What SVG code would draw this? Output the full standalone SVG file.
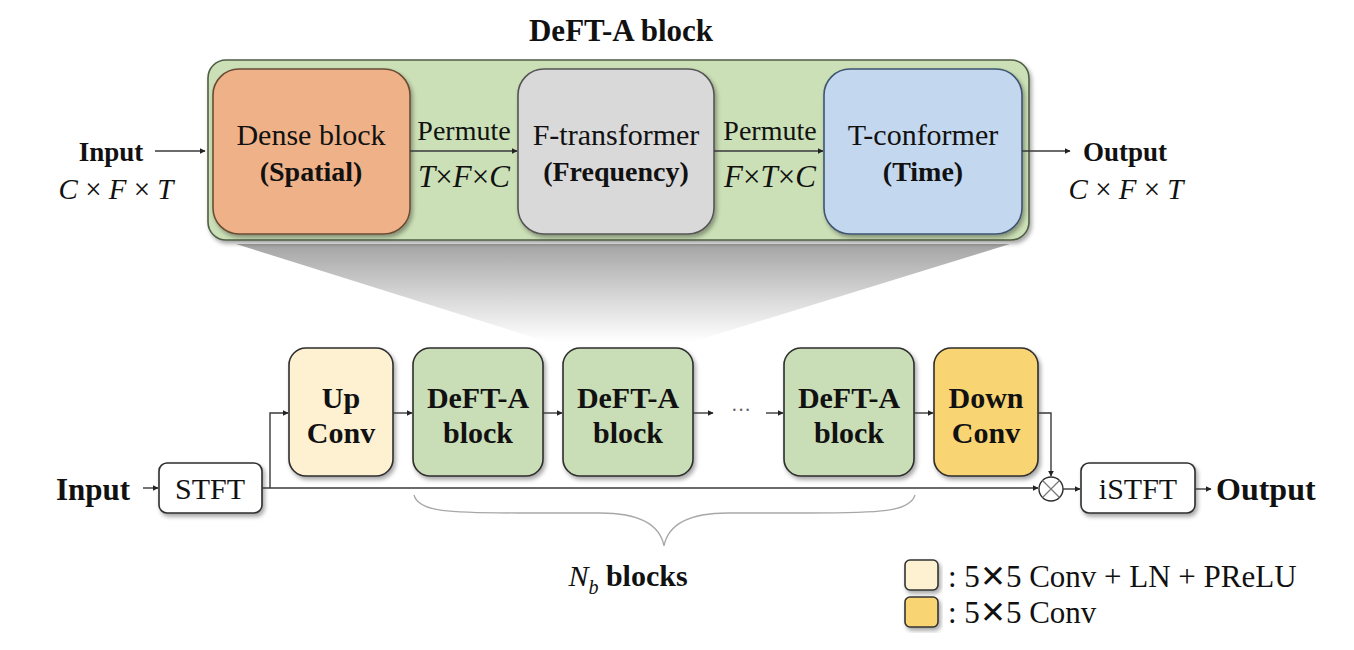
<svg xmlns="http://www.w3.org/2000/svg" width="1354" height="650" viewBox="0 0 1354 650">
<defs>
<style>
.t{font-family:"Liberation Serif","Times New Roman",serif;fill:#111;}
.b{font-weight:bold;}
.i{font-style:italic;}
.ln{fill:none;stroke:#3a3a3a;stroke-width:1.4;}
.box{stroke:#2e2e2e;stroke-width:1.6;}
.x{font-family:"DejaVu Sans",sans-serif;font-size:31px;font-weight:200;}
</style>
<marker id="ah" viewBox="0 0 10 10" refX="9" refY="5" markerWidth="6" markerHeight="6" markerUnits="userSpaceOnUse" orient="auto">
<path d="M0,0 L10,5 L0,10 z" fill="#222"/>
</marker>
<filter id="sh" x="-10%" y="-10%" width="125%" height="130%">
<feDropShadow dx="2" dy="3" stdDeviation="2" flood-color="#000" flood-opacity="0.35"/>
</filter>
<linearGradient id="fan" x1="0" y1="0" x2="0" y2="1">
<stop offset="0" stop-color="#a4a4a4"/>
<stop offset="0.55" stop-color="#d8d8d8"/>
<stop offset="1" stop-color="#ffffff"/>
</linearGradient>
</defs>
<rect width="1354" height="650" fill="#ffffff"/>

<!-- zoom fan -->
<polygon id="fan-shape" points="236,244 1010,244 692,342 548,342" fill="url(#fan)"/>

<!-- title -->
<text class="t b" x="621" y="41" font-size="31" text-anchor="middle">DeFT-A block</text>

<!-- DeFT-A detailed block -->
<g id="deft-detail">
<rect x="208" y="60" width="821" height="180" rx="18" fill="#cbe0b6" stroke="#4f5e45" stroke-width="1.6" filter="url(#sh)"/>
</g>
<g id="dense-block">
<rect x="213" y="69" width="197" height="165" rx="26" fill="#efb288" stroke="#6b4c36" stroke-width="1.6" filter="url(#sh)"/>
<text class="t" x="311" y="145" font-size="30" text-anchor="middle">Dense block</text>
<text class="t b" x="311" y="181" font-size="28" text-anchor="middle">(Spatial)</text>
</g>
<g id="f-transformer">
<rect x="518" y="69" width="196" height="165" rx="26" fill="#d9d9d9" stroke="#555555" stroke-width="1.6" filter="url(#sh)"/>
<text class="t" x="616" y="145" font-size="30" text-anchor="middle">F-transformer</text>
<text class="t b" x="616" y="181" font-size="28" text-anchor="middle">(Frequency)</text>
</g>
<g id="t-conformer">
<rect x="824" y="69" width="198" height="165" rx="26" fill="#c3d7ee" stroke="#3f5470" stroke-width="1.6" filter="url(#sh)"/>
<text class="t" x="923" y="145" font-size="30" text-anchor="middle">T-conformer</text>
<text class="t b" x="923" y="181" font-size="28" text-anchor="middle">(Time)</text>
</g>

<!-- top labels -->
<g id="top-input">
<text class="t b" x="111" y="161" font-size="27" text-anchor="middle">Input</text>
<text class="t" x="116" y="199" font-size="29" text-anchor="middle"><tspan class="i">C</tspan> × <tspan class="i">F</tspan> × <tspan class="i">T</tspan></text>
</g>
<g id="top-output">
<text class="t b" x="1083" y="161" font-size="27">Output</text>
<text class="t" x="1126" y="199" font-size="29" text-anchor="middle"><tspan class="i">C</tspan> × <tspan class="i">F</tspan> × <tspan class="i">T</tspan></text>
</g>
<text class="t" x="464" y="140" font-size="28" text-anchor="middle">Permute</text>
<text class="t" x="464" y="187" font-size="31" text-anchor="middle"><tspan class="i">T</tspan>×<tspan class="i">F</tspan>×<tspan class="i">C</tspan></text>
<text class="t" x="770" y="140" font-size="28" text-anchor="middle">Permute</text>
<text class="t" x="770" y="187" font-size="31" text-anchor="middle"><tspan class="i">F</tspan>×<tspan class="i">T</tspan>×<tspan class="i">C</tspan></text>

<!-- bottom pipeline nodes -->
<g id="stft">
<rect x="159" y="463" width="103" height="50" rx="8" fill="#ffffff" class="box" filter="url(#sh)"/>
<text class="t" x="210" y="499" font-size="30" text-anchor="middle">STFT</text>
</g>
<g id="up-conv">
<rect x="289" y="348" width="104" height="128" rx="17" fill="#fdf1d1" class="box" filter="url(#sh)"/>
<text class="t b" x="341" y="408" font-size="30" text-anchor="middle">Up</text>
<text class="t b" x="341" y="443" font-size="30" text-anchor="middle">Conv</text>
</g>
<g id="deft-1">
<rect x="413" y="348" width="130" height="128" rx="17" fill="#c9ddb7" class="box" filter="url(#sh)"/>
<text class="t b" x="478" y="408" font-size="30" text-anchor="middle">DeFT-A</text>
<text class="t b" x="478" y="443" font-size="30" text-anchor="middle">block</text>
</g>
<g id="deft-2">
<rect x="563" y="348" width="130" height="128" rx="17" fill="#c9ddb7" class="box" filter="url(#sh)"/>
<text class="t b" x="628" y="408" font-size="30" text-anchor="middle">DeFT-A</text>
<text class="t b" x="628" y="443" font-size="30" text-anchor="middle">block</text>
</g>
<g id="deft-n">
<rect x="784" y="348" width="130" height="128" rx="17" fill="#c9ddb7" class="box" filter="url(#sh)"/>
<text class="t b" x="849" y="408" font-size="30" text-anchor="middle">DeFT-A</text>
<text class="t b" x="849" y="443" font-size="30" text-anchor="middle">block</text>
</g>
<g id="down-conv">
<rect x="934" y="348" width="104" height="128" rx="17" fill="#f8d472" class="box" filter="url(#sh)"/>
<text class="t b" x="986" y="408" font-size="30" text-anchor="middle">Down</text>
<text class="t b" x="986" y="443" font-size="30" text-anchor="middle">Conv</text>
</g>
<g id="multiply">
<circle cx="1051" cy="489" r="12" fill="#ffffff" stroke="#2e2e2e" stroke-width="1.4"/>
<path d="M1042.5,480.5 L1059.5,497.5 M1059.5,480.5 L1042.5,497.5" stroke="#777" stroke-width="1.2"/>
</g>
<g id="istft">
<rect x="1081" y="463" width="114" height="50" rx="8" fill="#ffffff" class="box" filter="url(#sh)"/>
<text class="t" x="1138" y="499" font-size="30" text-anchor="middle">iSTFT</text>
</g>
<g id="bottom-input">
<text class="t b" x="56" y="500" font-size="31">Input</text>
</g>
<g id="bottom-output">
<text class="t b" x="1216" y="500" font-size="32">Output</text>
</g>

<!-- connectors -->
<g id="connectors">
<line class="ln" x1="155" y1="151" x2="205" y2="151" marker-end="url(#ah)"/>
<line class="ln" x1="410" y1="151" x2="517" y2="151" marker-end="url(#ah)"/>
<line class="ln" x1="714" y1="151" x2="823" y2="151" marker-end="url(#ah)"/>
<line class="ln" x1="1022" y1="151" x2="1070" y2="151" marker-end="url(#ah)"/>

<line class="ln" x1="143" y1="488" x2="158" y2="488" marker-end="url(#ah)"/>
<line class="ln" x1="262" y1="488" x2="1038" y2="488" marker-end="url(#ah)"/>
<polyline class="ln" points="270,488 270,413 288,413" marker-end="url(#ah)"/>
<line class="ln" x1="393" y1="413" x2="412" y2="413" marker-end="url(#ah)"/>
<line class="ln" x1="543" y1="413" x2="562" y2="413" marker-end="url(#ah)"/>
<line class="ln" x1="693" y1="413" x2="713" y2="413" marker-end="url(#ah)"/>
<line class="ln" x1="766" y1="413" x2="783" y2="413" marker-end="url(#ah)"/>
<line class="ln" x1="914" y1="413" x2="933" y2="413" marker-end="url(#ah)"/>
<polyline class="ln" points="1038,413 1051,413 1051,476" marker-end="url(#ah)"/>
<line class="ln" x1="1063" y1="489" x2="1080" y2="489" marker-end="url(#ah)"/>
<line class="ln" x1="1195" y1="489" x2="1211" y2="489" marker-end="url(#ah)"/>
</g>
<text class="t" x="741" y="417" font-size="20" text-anchor="middle" style="fill:#666">···</text>

<!-- brace -->
<path id="brace" d="M414,495 C418,512 450,513 520,513 L600,513 C640,513 660,525 664,546 C668,525 688,513 728,513 L808,513 C880,513 910,512 915,495" fill="none" stroke="#a8a8a8" stroke-width="1.3"/>
<text class="t" x="628" y="586" font-size="30" text-anchor="middle"><tspan class="i">N</tspan><tspan class="i" font-size="20" dy="8">b</tspan><tspan class="b" dy="-8"> blocks</tspan></text>

<!-- legend -->
<g id="legend">
<rect x="905" y="560" width="33" height="30" rx="5" fill="#fdf1d1" stroke="#333" stroke-width="1.6" filter="url(#sh)"/>
<rect x="905" y="597" width="33" height="30" rx="5" fill="#f8d472" stroke="#333" stroke-width="1.6" filter="url(#sh)"/>
<text class="t" x="948" y="587" font-size="31">: 5<tspan class="x">✕</tspan>5 Conv + LN + PReLU</text>
<text class="t" x="948" y="623" font-size="31">: 5<tspan class="x">✕</tspan>5 Conv</text>
</g>
</svg>
